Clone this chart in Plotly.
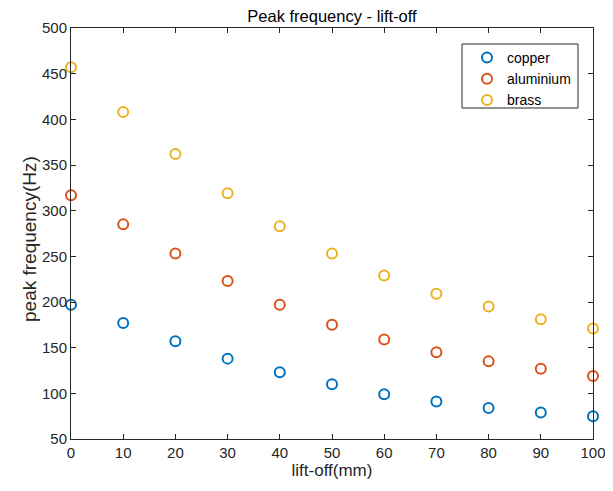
import plotly.graph_objects as go

lift_off = [0, 10, 20, 30, 40, 50, 60, 70, 80, 90, 100]
copper = [197, 177, 157, 138, 123, 110, 99, 91, 84, 79, 75]
aluminium = [317, 285, 253, 223, 197, 175, 159, 145, 135, 127, 119]
brass = [457, 408, 362, 319, 283, 253, 229, 209, 195, 181, 171]

series = [("copper", copper, "#0072BD"),
          ("aluminium", aluminium, "#D95319"),
          ("brass", brass, "#EDB120")]

FONT = "Liberation Sans, Arial"
W, H = 603, 475
L, R, T, B = 63, 18, 20, 44
PW = W - L - R
PH = H - T - B

fig = go.Figure()
for name, vals, col in series:
    fig.add_trace(go.Scatter(
        x=lift_off, y=vals, mode="markers", name=name, cliponaxis=False,
        marker=dict(symbol="circle-open", size=10, color=col, line=dict(width=2, color=col)),
    ))

axis_common = dict(
    showline=True, linecolor="#262626", linewidth=1, mirror="ticks",
    ticks="inside", ticklen=5, tickcolor="#262626", showgrid=False, zeroline=False,
    tickfont=dict(family=FONT, size=15, color="#262626"),
)
fig.update_xaxes(range=[0, 100], dtick=10, tick0=0, ticklabeloverflow="allow",
                 title=dict(text="lift-off(mm)", font=dict(family=FONT, size=17, color="#262626"), standoff=4),
                 **axis_common)
fig.update_yaxes(range=[50, 500], dtick=50, tick0=50, **axis_common)

# y-axis title placed as a rotated text next to the tick labels
fig.add_annotation(text="peak frequency(Hz)", xref="paper", yref="paper", x=0, y=0.5,
                   xanchor="center", yanchor="middle", xshift=-41.5, yshift=-6,
                   textangle=-90, showarrow=False,
                   font=dict(family=FONT, size=19, color="#262626"))

# legend frame
fig.add_shape(type="rect", xref="paper", yref="paper",
              x0=(462 - 8 - L) / PW, x1=(578 - 8 - L) / PW,
              y0=1 - (108 - 8 - T) / PH, y1=1 - (44 - 8 - T) / PH,
              line=dict(color="#262626", width=1), fillcolor="white", layer="above")

fig.update_layout(
    width=W, height=H,
    margin=dict(l=L, r=R, t=T, b=B, autoexpand=False),
    paper_bgcolor="white", plot_bgcolor="white",
    title=dict(text="Peak frequency - lift-off", x=(L + PW / 2) / W, xanchor="center", xref="container",
               y=1 - 2 / H, yanchor="top", yref="container", pad=dict(t=0, b=0),
               font=dict(family=FONT, size=16.5, color="black")),
    legend=dict(x=(462 - 8 - L + 5) / PW, y=1 - (42 - 8 - T) / PH, xanchor="left", yanchor="top",
                borderwidth=0, bgcolor="rgba(0,0,0,0)",
                font=dict(family=FONT, size=14, color="black"),
                itemwidth=30, tracegroupgap=0),
    showlegend=True,
)

fig.write_html("out.html")
